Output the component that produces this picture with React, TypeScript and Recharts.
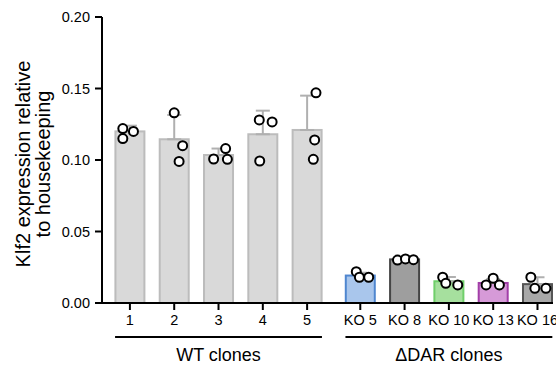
import {
  ComposedChart,
  Bar,
  ErrorBar,
  Scatter,
  XAxis,
  YAxis,
} from "recharts";

// clone names in plotting order
const clones = ["1", "2", "3", "4", "5", "KO 5", "KO 8", "KO 10", "KO 13", "KO 16"];

// bar heights (mean) and SD
const means = [0.12, 0.1145, 0.1035, 0.118, 0.121, 0.0192, 0.0305, 0.0152, 0.014, 0.0132];
const sds = [0.004, 0.017, 0.0045, 0.0165, 0.024, 0.002, 0.0005, 0.003, 0.0027, 0.0048];

// individual replicates (3 per clone)
const replicates = [
  [0.122, 0.115, 0.12],
  [0.133, 0.11, 0.099],
  [0.1007, 0.108, 0.1005],
  [0.128, 0.1266, 0.0993],
  [0.147, 0.114, 0.1005],
  [0.0219, 0.018, 0.018],
  [0.03, 0.0308, 0.0303],
  [0.018, 0.0138, 0.0126],
  [0.0173, 0.0126, 0.0126],
  [0.018, 0.0103, 0.0103],
];

// horizontal scatter of the dots, in category units
const jitter = [
  [-0.16, -0.16, 0.08],
  [0, 0.19, 0.11],
  [-0.11, 0.16, 0.2],
  [-0.08, 0.21, -0.07],
  [0.2, 0.17, 0.14],
  [-0.09, -0.02, 0.19],
  [-0.16, 0.02, 0.2],
  [-0.14, -0.07, 0.2],
  [0, -0.16, 0.14],
  [-0.15, -0.06, 0.19],
];

const fills = ["#d9d9d9", "#d9d9d9", "#d9d9d9", "#d9d9d9", "#d9d9d9", "#a9c6ec", "#9e9e9e", "#a6e09e", "#d69ad8", "#a8a8a8"];
const strokes = ["#bcbcbc", "#bcbcbc", "#bcbcbc", "#bcbcbc", "#bcbcbc", "#4f86cf", "#454545", "#6fcf6a", "#a23fa8", "#555555"];

const yTicks = [0, 0.05, 0.1, 0.15, 0.2];

const groups = [
  { label: "WT clones", first: 0, last: 4 },
  { label: "ΔDAR clones", first: 5, last: 9 },
];

const GAP = 0.2; // extra space between the two groups
const pos = (i: number) => i + 1 + (i >= 5 ? GAP : 0);

const X_DOMAIN = [0.37, 10.55];
const W = 556;
const H = 366;
const MARGIN = { top: 17, right: 3, bottom: 0, left: 0 };
const Y_WIDTH = 102;
const BAR_W = 29;
const pxPerUnit = (W - MARGIN.left - MARGIN.right - Y_WIDTH) / (X_DOMAIN[1] - X_DOMAIN[0]);

const barData = clones.map((name, i) => ({
  name,
  x: pos(i),
  mean: means[i],
  err: [0, sds[i]],
}));

const dotData = replicates.flatMap((vals, i) =>
  vals.map((v, j) => ({ x: pos(i) + jitter[i][j], y: v }))
);

const groupCenters = groups.map((g) => (pos(g.first) + pos(g.last)) / 2);

const FONT = "'Liberation Sans', Arial, sans-serif";

const tickLabel = (v: number) => {
  const i = clones.findIndex((_, k) => Math.abs(pos(k) - v) < 0.01);
  return i >= 0 ? clones[i] : "";
};

const YLabel = (props: any) => {
  const { viewBox } = props;
  const cy = viewBox.y + viewBox.height / 2 + 4;
  const x1 = 23;
  const x2 = 43;
  return (
    <g fontFamily={FONT} fontSize={20} fill="#000">
      <text x={x1} y={cy} textAnchor="middle" dominantBaseline="central" transform={`rotate(-90, ${x1}, ${cy})`}>
        Klf2 expression relative
      </text>
      <text x={x2} y={cy} textAnchor="middle" dominantBaseline="central" transform={`rotate(-90, ${x2}, ${cy})`}>
        to housekeeping
      </text>
    </g>
  );
};

// group bracket + caption under the clone ticks
const GroupTick = (props: any) => {
  const { x, y, payload } = props;
  const gi = groupCenters.findIndex((c) => Math.abs(c - payload.value) < 0.01);
  if (gi < 0) return null;
  const g = groups[gi];
  const half = ((pos(g.last) - pos(g.first)) / 2 + 0.335) * pxPerUnit;
  return (
    <g>
      <line x1={x - half} x2={x + half} y1={y + 4} y2={y + 4} stroke="#000" strokeWidth={2} />
      <text x={x} y={y + 28} textAnchor="middle" fontFamily={FONT} fontSize={18} fill="#000">
        {g.label}
      </text>
    </g>
  );
};

const BarShape = (props: any) => {
  const { x, y, width, height, index } = props;
  const cx = x + width / 2;
  return (
    <rect
      x={cx - BAR_W / 2}
      y={y}
      width={BAR_W}
      height={height}
      fill={fills[index]}
      stroke={strokes[index]}
      strokeWidth={2}
    />
  );
};

const Dot = (props: any) => (
  <circle cx={props.cx} cy={props.cy} r={4.5} fill="#fff" stroke="#000" strokeWidth={2} />
);

export default function App() {
  return (
    <div style={{ position: "absolute", left: 0, top: 0, background: "#fff" }}>
      <ComposedChart width={W} height={H} data={barData} margin={MARGIN}>
        <XAxis
          type="number"
          dataKey="x"
          domain={X_DOMAIN}
          allowDataOverflow
          ticks={clones.map((_, i) => pos(i))}
          tickFormatter={tickLabel}
          interval={0}
          height={30}
          axisLine={{ stroke: "#000", strokeWidth: 2 }}
          tickLine={{ stroke: "#000", strokeWidth: 2 }}
          tickSize={7}
          tickMargin={5}
          tick={{ fill: "#000", fontSize: 14.5, fontFamily: FONT }}
        />
        <XAxis
          xAxisId="groups"
          type="number"
          dataKey="x"
          domain={X_DOMAIN}
          allowDataOverflow
          ticks={groupCenters}
          interval={0}
          height={33}
          axisLine={false}
          tickLine={false}
          tickSize={0}
          tickMargin={0}
          tick={GroupTick}
        />
        <YAxis
          type="number"
          domain={[0, 0.2]}
          allowDataOverflow
          ticks={yTicks}
          tickFormatter={(v: number) => v.toFixed(2)}
          width={Y_WIDTH}
          axisLine={{ stroke: "#000", strokeWidth: 2 }}
          tickLine={{ stroke: "#000", strokeWidth: 2 }}
          tickSize={7}
          tickMargin={5}
          tick={{ fill: "#000", fontSize: 14.5, fontFamily: FONT }}
          label={{ content: YLabel }}
        />
        <Bar dataKey="mean" shape={BarShape} isAnimationActive={false}>
          <ErrorBar dataKey="err" direction="y" width={7} stroke="#b0b0b0" strokeWidth={2} />
        </Bar>
        <Scatter data={dotData} dataKey="y" shape={Dot} isAnimationActive={false} />
      </ComposedChart>
    </div>
  );
}
